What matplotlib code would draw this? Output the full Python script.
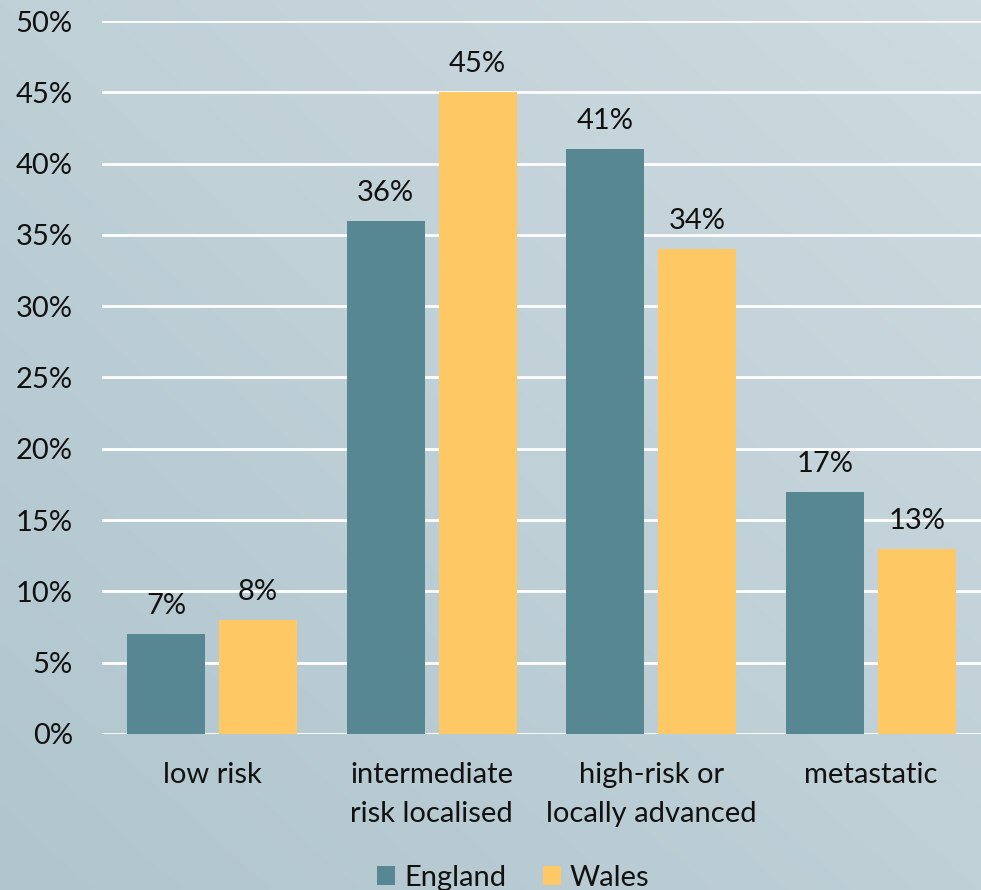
import matplotlib
matplotlib.use("Agg")
import matplotlib.pyplot as plt
import numpy as np

categories = ["low risk", "intermediate\nrisk localised", "high-risk or\nlocally advanced", "metastatic"]
england = [7, 36, 41, 17]
wales = [8, 45, 34, 13]
yticks = [0, 5, 10, 15, 20, 25, 30, 35, 40, 45, 50]

plt.rcParams['font.family'] = ['Lato', 'DejaVu Sans']
FS = 21
TXT = "#111111"

fig = plt.figure(figsize=(9.81, 8.9), dpi=100)

# diagonal gradient background
bg = fig.add_axes([0, 0, 1, 1])
gx, gy = np.meshgrid(np.linspace(0, 1, 200), np.linspace(0, 1, 200))
g = (gx * 0.5 + gy * 0.5)
c0 = np.array([0xb0, 0xc5, 0xcd]) / 255
c1 = np.array([0xce, 0xdb, 0xe0]) / 255
img = c0[None, None, :] + (c1 - c0)[None, None, :] * g[:, :, None]
bg.imshow(img, origin="lower", extent=[0, 1, 0, 1], aspect="auto")
bg.axis("off")

ax = fig.add_axes([0.104, 0.1753, 0.896, 0.8011])
ax.set_facecolor("none")
x = np.arange(len(categories))
w = 0.355
off = 0.209
b1 = ax.bar(x - off, england, w, color="#568792", label="England", zorder=3)
b2 = ax.bar(x + off, wales, w, color="#fec965", label="Wales", zorder=3)

for bars, vals in ((b1, england), (b2, wales)):
    for r, v in zip(bars, vals):
        ax.text(r.get_x() + r.get_width() / 2, v + 1.4, f"{v}%", ha="center",
                va="baseline", fontsize=FS, color=TXT)

ax.set_xlim(-0.5, 3.5)
ax.set_ylim(0, 50)
ax.set_yticks(yticks)
ax.set_yticklabels([f"{t}%" for t in yticks], fontsize=FS, color=TXT)
ax.set_xticks(x)
ax.set_xticklabels(categories, fontsize=FS, color=TXT, linespacing=1.65)
ax.tick_params(length=0)
ax.tick_params(axis="x", pad=20)
ax.tick_params(axis="y", pad=21)
ax.grid(axis="y", color="white", linewidth=2, zorder=0)
for s in ax.spines.values():
    s.set_visible(False)

leg = fig.legend(handles=[b1, b2], loc="center", bbox_to_anchor=(0.523, 0.0135),
                 ncol=2, frameon=False, fontsize=FS, handlelength=0.62, handleheight=0.62,
                 handletextpad=0.3, columnspacing=1.25, borderpad=0)
for t in leg.get_texts():
    t.set_color(TXT)

fig.savefig("out.png", dpi=100)
